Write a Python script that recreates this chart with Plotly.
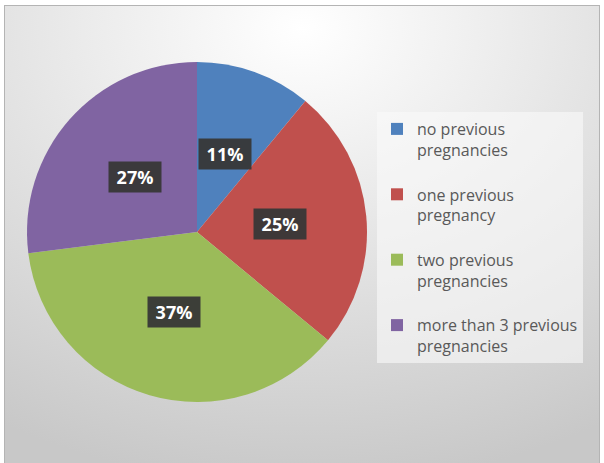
import math, base64
import plotly.graph_objects as go

categories = ["no previous pregnancies", "one previous pregnancy",
              "two previous pregnancies", "more than 3 previous pregnancies"]
legend_labels = ["no previous<br>pregnancies", "one previous<br>pregnancy",
                 "two previous<br>pregnancies", "more than 3 previous<br>pregnancies"]
values = [11, 25, 37, 27]
colors = ["#4F81BD", "#C0504D", "#9BBB59", "#8064A2"]

W, H = 604, 463
dom_x = [27 / W, 367 / W]
dom_y = [1 - 402 / H, 1 - 62 / H]

svg = f'''<svg xmlns="http://www.w3.org/2000/svg" width="{W}" height="{H}">
<defs><radialGradient id="g" cx="0.5" cy="0.05" r="1.0" fx="0.5" fy="0.05">
<stop offset="0" stop-color="#ffffff"/><stop offset="0.35" stop-color="#ececec"/>
<stop offset="1" stop-color="#c8c8c8"/></radialGradient></defs>
<rect x="0" y="0" width="{W}" height="{H}" fill="#ffffff"/>
<rect x="4.5" y="5.5" width="{W-9}" height="{H-5}" fill="url(#g)" stroke="#b4b4b4" stroke-width="1"/>
</svg>'''
bg_uri = "data:image/svg+xml;base64," + base64.b64encode(svg.encode()).decode()

names = [l + ("<br>\u00a0" if i < len(legend_labels) - 1 else "")
         for i, l in enumerate(legend_labels)]

fig = go.Figure()
fig.add_trace(go.Pie(
    labels=names,
    values=values,
    marker=dict(colors=colors, line=dict(color="white", width=0)),
    sort=False, direction="clockwise", rotation=0,
    textinfo="none", domain=dict(x=dom_x, y=dom_y),
    hovertext=categories, hoverinfo="text+percent",
))

# data labels placed from the values (mid-angle of each slice)
R = min((dom_x[1] - dom_x[0]) * W, (dom_y[1] - dom_y[0]) * H) / 2
cx = (dom_x[0] + dom_x[1]) / 2
cy = (dom_y[0] + dom_y[1]) / 2
total = sum(values)
cum = 0
annotations = []
for v in values:
    mid = (cum + v / 2) / total * 2 * math.pi
    cum += v
    f = 0.49
    x = cx + f * R * math.sin(mid) / W
    y = cy + f * R * math.cos(mid) / H
    annotations.append(dict(
        x=x, y=y, xref="paper", yref="paper", showarrow=False,
        xanchor="center", yanchor="middle",
        text=f"<b>{round(v / total * 100)}%</b>",
        font=dict(family="Open Sans", size=18, color="white"),
        bgcolor="rgba(55,55,55,0.95)", borderpad=3, width=46,
    ))

fig.update_layout(
    width=W, height=H,
    margin=dict(l=0, r=0, t=0, b=0),
    paper_bgcolor="#d4d4d4",
    images=[dict(source=bg_uri, xref="paper", yref="paper", x=0, y=1,
                 sizex=1, sizey=1, sizing="stretch", layer="below")],
    annotations=annotations,
    showlegend=True,
    legend=dict(x=377 / W, y=1 - 112 / H, xanchor="left", yanchor="top",
                bgcolor="rgba(250,250,250,0.6)", valign="top",
                font=dict(family="Open Sans", size=16, color="#595959"),
                traceorder="normal"),
)
fig.write_html("out.html", config={"displayModeBar": False},
               post_script="document.body.style.margin='0';")
